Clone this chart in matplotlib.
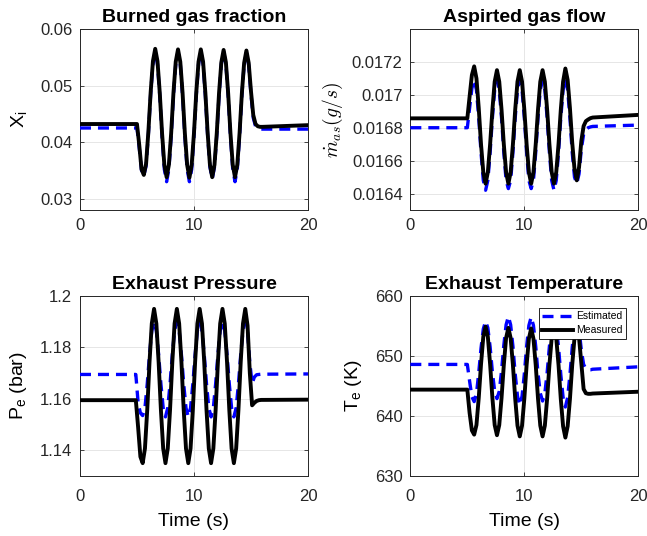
import numpy as np
import matplotlib
matplotlib.use('Agg')
import matplotlib.pyplot as plt
from matplotlib.ticker import FixedLocator, FixedFormatter

plt.rcParams['font.family'] = ['Liberation Sans', 'DejaVu Sans']
plt.rcParams['mathtext.fontset'] = 'custom'
plt.rcParams['mathtext.rm'] = 'Liberation Sans'
plt.rcParams['mathtext.it'] = 'Liberation Sans:italic'

# Zeitachsen (s): Xi, Luftmasse und Temperatur bzw. Abgasdruck
t_main = np.concatenate(([0.0], np.round(np.arange(5.0, 16.01, 0.2), 1), [20.0]))
t_pres = np.concatenate(([0.0], np.round(np.arange(4.9, 15.91, 0.2), 1), [20.0]))

# Restgasanteil X_i
xi_meas = [0.0432,
           0.0432, 0.0395, 0.0352, 0.0342, 0.0362, 0.0418, 0.0488, 0.0543, 0.0565, 0.0543,
           0.0487, 0.0416, 0.0360, 0.0338, 0.0360, 0.0416, 0.0487, 0.0542, 0.0564, 0.0542,
           0.0487, 0.0416, 0.0360, 0.0337, 0.0360, 0.0416, 0.0487, 0.0542, 0.0564, 0.0542,
           0.0487, 0.0416, 0.0360, 0.0338, 0.0360, 0.0416, 0.0487, 0.0541, 0.0563, 0.0541,
           0.0486, 0.0416, 0.0360, 0.0338, 0.0360, 0.0416, 0.0486, 0.0540, 0.0562, 0.0540,
           0.0490, 0.0448, 0.0432, 0.0428, 0.0427, 0.0427,
           0.0430]
xi_est = [0.0425,
          0.0425, 0.0390, 0.0350, 0.0341, 0.0358, 0.0414, 0.0485, 0.0538, 0.0560, 0.0538,
          0.0482, 0.0410, 0.0352, 0.0330, 0.0352, 0.0410, 0.0482, 0.0538, 0.0560, 0.0538,
          0.0482, 0.0410, 0.0352, 0.0330, 0.0352, 0.0410, 0.0482, 0.0538, 0.0560, 0.0538,
          0.0482, 0.0412, 0.0356, 0.0335, 0.0356, 0.0412, 0.0482, 0.0538, 0.0560, 0.0538,
          0.0482, 0.0410, 0.0352, 0.0330, 0.0352, 0.0410, 0.0482, 0.0537, 0.0558, 0.0536,
          0.0485, 0.0443, 0.0428, 0.0424, 0.0423, 0.0423,
          0.0423]

# angesaugter Massenstrom
mas_meas = [0.016857,
            0.016857, 0.01699, 0.01712, 0.017173, 0.01710, 0.01692, 0.01670, 0.01653, 0.01646, 0.01653,
            0.01670, 0.01691, 0.01708, 0.01715, 0.01708, 0.01691, 0.01670, 0.01653, 0.01646, 0.01653,
            0.01670, 0.01691, 0.01708, 0.01715, 0.01708, 0.01691, 0.01670, 0.01653, 0.01646, 0.01653,
            0.01670, 0.01691, 0.01708, 0.01715, 0.01708, 0.01691, 0.01670, 0.01653, 0.01646, 0.01653,
            0.01670, 0.01691, 0.01708, 0.01716, 0.01709, 0.01692, 0.01671, 0.01655, 0.01648, 0.01656,
            0.01672, 0.01681, 0.01684, 0.01685, 0.016858, 0.016862,
            0.016878]
mas_est = [0.016800,
           0.016800, 0.01692, 0.01704, 0.01709, 0.01703, 0.01686, 0.01665, 0.01648, 0.01642, 0.01648,
           0.01665, 0.01686, 0.01703, 0.01709, 0.01703, 0.01686, 0.01665, 0.01648, 0.01643, 0.01648,
           0.01665, 0.01686, 0.01703, 0.01709, 0.01703, 0.01686, 0.01665, 0.01648, 0.01643, 0.01648,
           0.01665, 0.01686, 0.01703, 0.01709, 0.01703, 0.01686, 0.01665, 0.01648, 0.01642, 0.01648,
           0.01665, 0.01686, 0.01703, 0.01710, 0.01703, 0.01686, 0.01665, 0.01650, 0.01646, 0.01652,
           0.01667, 0.01676, 0.01679, 0.016800, 0.016805, 0.016808,
           0.016816]

# Abgasdruck (bar)
pe_meas = [1.1595,
           1.1595, 1.1490, 1.1375, 1.1350, 1.1407, 1.1557, 1.1743, 1.1893, 1.1950, 1.1893,
           1.1743, 1.1557, 1.1407, 1.1350, 1.1407, 1.1557, 1.1743, 1.1893, 1.1950, 1.1893,
           1.1743, 1.1557, 1.1407, 1.1350, 1.1407, 1.1557, 1.1743, 1.1893, 1.1950, 1.1893,
           1.1743, 1.1557, 1.1407, 1.1350, 1.1407, 1.1557, 1.1743, 1.1893, 1.1950, 1.1893,
           1.1743, 1.1557, 1.1407, 1.1350, 1.1407, 1.1557, 1.1743, 1.1893, 1.1950, 1.1885,
           1.1700, 1.1575, 1.1585, 1.1592, 1.1595, 1.1596,
           1.1597]
pe_est = [1.1695,
          1.1695, 1.1585, 1.1545, 1.1535, 1.1565, 1.1658, 1.1772, 1.1865, 1.1900, 1.1865,
          1.1772, 1.1658, 1.1565, 1.1530, 1.1565, 1.1658, 1.1772, 1.1865, 1.1900, 1.1865,
          1.1772, 1.1658, 1.1565, 1.1530, 1.1565, 1.1658, 1.1772, 1.1865, 1.1900, 1.1865,
          1.1772, 1.1658, 1.1565, 1.1530, 1.1565, 1.1658, 1.1772, 1.1865, 1.1900, 1.1865,
          1.1772, 1.1658, 1.1565, 1.1530, 1.1565, 1.1658, 1.1772, 1.1865, 1.1900, 1.1860,
          1.1740, 1.1660, 1.1685, 1.1694, 1.1695, 1.1696,
          1.1697]

# Abgastemperatur (K)
te_meas = [644.4,
           644.4, 640.5, 637.6, 636.9, 638.5, 643.0, 648.6, 653.2, 654.9, 653.2,
           648.6, 643.0, 638.5, 636.8, 638.5, 643.0, 648.5, 653.0, 654.7, 653.0,
           648.5, 642.9, 638.4, 636.6, 638.4, 642.9, 648.5, 652.9, 654.6, 652.9,
           648.5, 642.9, 638.4, 636.6, 638.4, 642.9, 648.5, 653.0, 654.8, 653.0,
           648.5, 642.8, 638.3, 636.4, 638.3, 642.8, 648.5, 653.0, 654.8, 653.0,
           648.8, 644.5, 643.8, 643.7, 643.7, 643.75,
           644.05]
te_est = [648.6,
          648.6, 645.8, 643.2, 642.4, 643.7, 647.2, 651.3, 654.5, 655.8, 654.7,
          651.5, 647.3, 644.1, 642.9, 644.1, 647.5, 651.8, 655.2, 656.6, 655.2,
          651.6, 647.0, 643.3, 641.8, 643.3, 647.0, 651.6, 655.1, 656.5, 655.1,
          651.6, 647.1, 643.8, 642.5, 643.8, 647.2, 651.6, 655.0, 656.3, 655.0,
          651.5, 646.9, 643.1, 641.5, 643.1, 646.9, 651.4, 654.8, 656.0, 654.5,
          651.0, 648.6, 647.9, 647.7, 647.7, 647.8,
          648.2]

titles = ['Burned gas fraction', 'Aspirted gas flow', 'Exhaust Pressure', 'Exhaust Temperature']
ylabels = [r'X$_{\mathrm{i}}$', r'$\dot{m}_{as}(g/s)$', r'P$_{\mathrm{e}}$ (bar)', r'T$_{\mathrm{e}}$ (K)']
ylims = [(0.028, 0.060), (0.0163, 0.0174), (1.13, 1.20), (630, 660)]
yticks = [[0.03, 0.04, 0.05, 0.06],
          [0.0164, 0.0166, 0.0168, 0.0170, 0.0172],
          [1.14, 1.16, 1.18, 1.20],
          [630, 640, 650, 660]]
yticklabels = [['0.03', '0.04', '0.05', '0.06'],
               ['0.0164', '0.0166', '0.0168', '0.017', '0.0172'],
               ['1.14', '1.16', '1.18', '1.2'],
               ['630', '640', '650', '660']]


def main():
    fig = plt.figure(figsize=(6.47, 5.36), dpi=100)
    # Achsenpositionen [links, unten, breite, hoehe]
    pos = [[0.1236, 0.6082, 0.3524, 0.3377],
           [0.6342, 0.6082, 0.3524, 0.3377],
           [0.1236, 0.1119, 0.3524, 0.3358],
           [0.6342, 0.1119, 0.3524, 0.3358]]
    series = [(t_main, xi_est, xi_meas),
              (t_main, mas_est, mas_meas),
              (t_pres, pe_est, pe_meas),
              (t_main, te_est, te_meas)]

    for i in range(4):
        ax = fig.add_axes(pos[i])
        t, est, meas = series[i]
        ax.plot(t, est, color='#0000ff', lw=2.4, dashes=(3.3, 2.1), label='Estimated', zorder=3)
        ax.plot(t, meas, color='black', lw=2.8, label='Measured', zorder=4)

        ax.set_xlim(0, 20)
        ax.set_ylim(*ylims[i])
        ax.xaxis.set_major_locator(FixedLocator([0, 10, 20]))
        ax.yaxis.set_major_locator(FixedLocator(yticks[i]))
        ax.yaxis.set_major_formatter(FixedFormatter(yticklabels[i]))
        ax.tick_params(direction='in', length=3, width=0.6, top=True, right=True,
                       labelsize=12, labelcolor='#262626', color='#262626', pad=5.5)
        # untere Reihe: Zeitachse etwas weiter weg
        if i >= 2:
            ax.tick_params(axis='x', pad=9)
        ax.grid(True, color='#e6e6e6', lw=0.7)
        ax.set_axisbelow(True)
        for s in ax.spines.values():
            s.set_linewidth(0.7)
            s.set_color('#262626')

        ax.set_title(titles[i], fontsize=14, fontweight='bold', pad=5)
        if i == 1:
            ax.set_ylabel(ylabels[i], fontsize=14, math_fontfamily='cm', labelpad=5)
        else:
            ax.set_ylabel(ylabels[i], fontsize=14, labelpad=8)
        if i >= 2:
            ax.set_xlabel('Time (s)', fontsize=14, labelpad=7)

        if i == 3:
            leg = ax.legend(loc='upper right', bbox_to_anchor=(0.946, 0.933), fontsize=7.5,
                            handlelength=3.0, handletextpad=0.3, borderpad=0.3,
                            labelspacing=0.4, fancybox=False, framealpha=1,
                            borderaxespad=0)
            leg.get_frame().set_edgecolor('black')
            leg.get_frame().set_linewidth(0.6)
            leg.set_zorder(10)

    fig.savefig('out.png', dpi=100)


if __name__ == '__main__':
    main()
